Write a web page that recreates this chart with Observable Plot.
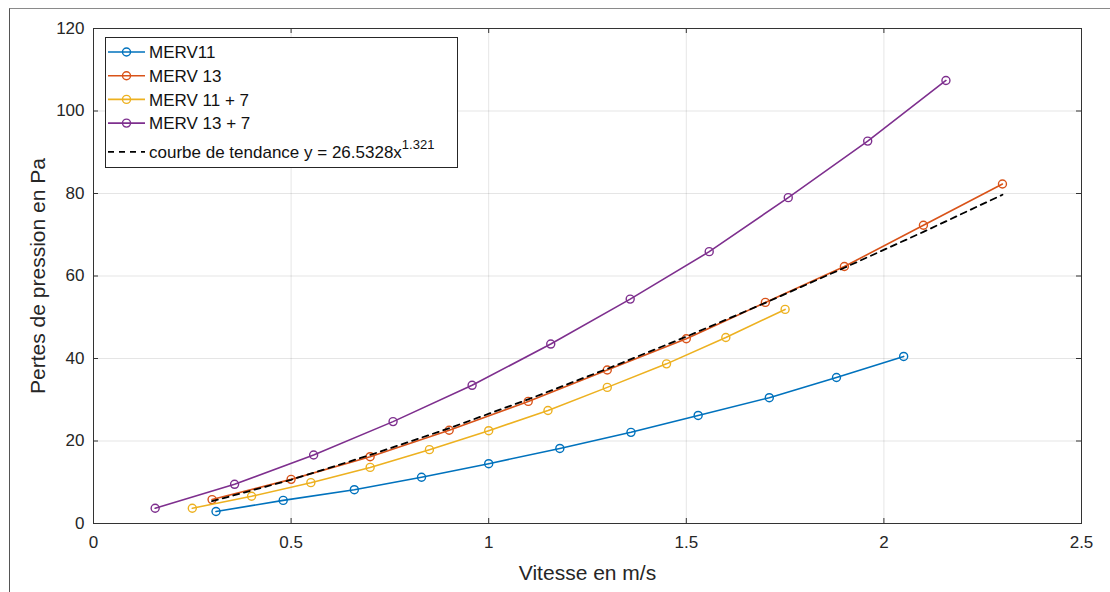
<!DOCTYPE html>
<html>
<head>
<meta charset="utf-8">
<script src="https://cdn.jsdelivr.net/npm/d3@7"></script>
<script src="https://cdn.jsdelivr.net/npm/@observablehq/plot@0.6"></script>
<style>
  html, body { margin: 0; padding: 0; background: #fff; }
  #wrap { position: relative; width: 1110px; height: 592px; overflow: hidden; font-family: "Liberation Sans", Arial, sans-serif; }
  #frame { position: absolute; left: 9px; top: 8px; right: -2px; bottom: -2px; border-left: 1px solid #555; border-top: 1px solid #8a8a8a; pointer-events: none; }
  #legend { position: absolute; left: 105px; top: 37px; }
</style>
</head>
<body>
<div id="wrap"><div id="chart"></div><div id="frame"></div><div id="legend"></div></div>
<script>
// ---- data ----
const xTicks = [0, 0.5, 1, 1.5, 2, 2.5];
const yTicks = [0, 20, 40, 60, 80, 100, 120];

const merv11X = [0.31, 0.48, 0.66, 0.83, 1.0, 1.18, 1.36, 1.53, 1.71, 1.88, 2.05];
const merv11Y = [2.9, 5.6, 8.2, 11.2, 14.5, 18.2, 22.1, 26.2, 30.5, 35.4, 40.5];

const merv13X = [0.3, 0.5, 0.7, 0.9, 1.1, 1.3, 1.5, 1.7, 1.9, 2.1, 2.3];
const merv13Y = [5.8, 10.7, 16.2, 22.6, 29.6, 37.2, 44.8, 53.6, 62.3, 72.3, 82.3];

const merv117X = [0.25, 0.4, 0.55, 0.7, 0.85, 1.0, 1.15, 1.3, 1.45, 1.6, 1.75];
const merv117Y = [3.7, 6.6, 9.9, 13.6, 17.9, 22.5, 27.4, 33.0, 38.7, 45.1, 51.9];

const merv137X = [0.156, 0.357, 0.557, 0.758, 0.958, 1.157, 1.358, 1.558, 1.758, 1.959, 2.157];
const merv137Y = [3.7, 9.5, 16.6, 24.7, 33.5, 43.5, 54.4, 65.9, 79.0, 92.7, 107.4];

const trendX = [0.3, 0.5, 0.7, 0.9, 1.1, 1.3, 1.5, 1.7, 1.9, 2.1, 2.3];
const trendY = [5.4, 10.6, 16.6, 23.1, 30.1, 37.5, 45.3, 53.5, 62.0, 70.7, 79.7];

const seriesNames = ["MERV11", "MERV 13", "MERV 11 + 7", "MERV 13 + 7"];
const seriesColors = ["#0072BD", "#D95319", "#EDB120", "#7E2F8E"];
const seriesX = [merv11X, merv13X, merv117X, merv137X];
const seriesY = [merv11Y, merv13Y, merv117Y, merv137Y];
const trendLabel = "courbe de tendance y = 26.5328x";
const trendExp = "1.321";
const xLabel = "Vitesse en m/s";
const yLabel = "Pertes de pression en Pa";

// ---- build tables ----
const series = seriesNames.map((name, i) => ({
  name, color: seriesColors[i],
  pts: seriesX[i].map((x, j) => ({x, y: seriesY[i][j]}))
}));
const trend = trendX.map((x, j) => ({x, y: trendY[j]}));

const W = 1110, H = 592;
const mL = 93, mR = 29, mT = 28, mB = 69;
const fw = W - mL - mR, fh = H - mT - mB;
const axisColor = "#333333";
const tickLen = 5;

const marks = [
  Plot.gridX(xTicks, {stroke: "#000", strokeOpacity: 0.1}),
  Plot.gridY(yTicks, {stroke: "#000", strokeOpacity: 0.1}),
];
series.forEach((s) => {
  marks.push(Plot.line(s.pts, {x: "x", y: "y", stroke: s.color, strokeWidth: 1.6}));
  marks.push(Plot.dot(s.pts, {x: "x", y: "y", stroke: s.color, fill: "none", r: 4, strokeWidth: 1.4}));
});
marks.push(Plot.line(trend, {x: "x", y: "y", stroke: "#000", strokeWidth: 1.8, strokeDasharray: "6,5"}));
marks.push(
  Plot.frame({stroke: axisColor, strokeWidth: 1}),
  Plot.tickX(xTicks, {x: d => d, stroke: axisColor, insetTop: fh - tickLen}),
  Plot.tickX(xTicks, {x: d => d, stroke: axisColor, insetBottom: fh - tickLen}),
  Plot.tickY(yTicks, {y: d => d, stroke: axisColor, insetRight: fw - tickLen}),
  Plot.tickY(yTicks, {y: d => d, stroke: axisColor, insetLeft: fw - tickLen}),
  Plot.axisX(xTicks, {tickSize: 0, tickPadding: 12, fontSize: 17, fill: "#262626", label: null, tickFormat: d => String(d)}),
  Plot.axisY(yTicks, {tickSize: 0, tickPadding: 9, fontSize: 17, fill: "#262626", label: null, tickFormat: d => String(d)}),
  Plot.text([xLabel], {text: d => d, frameAnchor: "bottom", dy: 50, fontSize: 21, fill: "#262626", lineAnchor: "middle", textAnchor: "middle"}),
  Plot.text([yLabel], {text: d => d, frameAnchor: "left", dx: -55, rotate: -90, fontSize: 21, fill: "#262626", lineAnchor: "middle", textAnchor: "middle"})
);

const chart = Plot.plot({
  width: W, height: H,
  marginLeft: mL, marginRight: mR, marginTop: mT, marginBottom: mB,
  style: {fontFamily: "'Liberation Sans', Arial, sans-serif", background: "#fff", overflow: "visible"},
  x: {domain: [0, 2.5], axis: null},
  y: {domain: [0, 120], axis: null},
  marks
});
document.getElementById("chart").appendChild(chart);

// ---- legend (inside the axes, top-left) ----
const lw = 352, lh = 130, rowH = 23.7;
const lg = d3.select("#legend").append("svg")
  .attr("width", lw + 1).attr("height", lh + 1)
  .style("font-family", "'Liberation Sans', Arial, sans-serif");
lg.append("rect").attr("x", 0.5).attr("y", 0.5).attr("width", lw).attr("height", lh)
  .attr("fill", "#fff").attr("stroke", "#262626").attr("stroke-width", 1);
series.forEach((s, i) => {
  const cy = 15 + i * rowH;
  lg.append("line").attr("x1", 3).attr("x2", 40).attr("y1", cy).attr("y2", cy)
    .attr("stroke", s.color).attr("stroke-width", 1.6);
  lg.append("circle").attr("cx", 21.5).attr("cy", cy).attr("r", 4)
    .attr("fill", "none").attr("stroke", s.color).attr("stroke-width", 1.4);
  lg.append("text").attr("x", 44).attr("y", cy).attr("dy", "0.36em")
    .attr("font-size", 17).attr("fill", "#111").text(s.name);
});
{
  const cy = 15 + 4 * rowH + 5;
  lg.append("line").attr("x1", 3).attr("x2", 40).attr("y1", cy).attr("y2", cy)
    .attr("stroke", "#000").attr("stroke-width", 1.8).attr("stroke-dasharray", "6,5");
  const t = lg.append("text").attr("x", 44).attr("y", cy).attr("dy", "0.36em")
    .attr("font-size", 17).attr("fill", "#111");
  t.append("tspan").text(trendLabel);
  t.append("tspan").attr("font-size", 13).attr("dy", "-0.7em").text(trendExp);
}
</script>
</body>
</html>
